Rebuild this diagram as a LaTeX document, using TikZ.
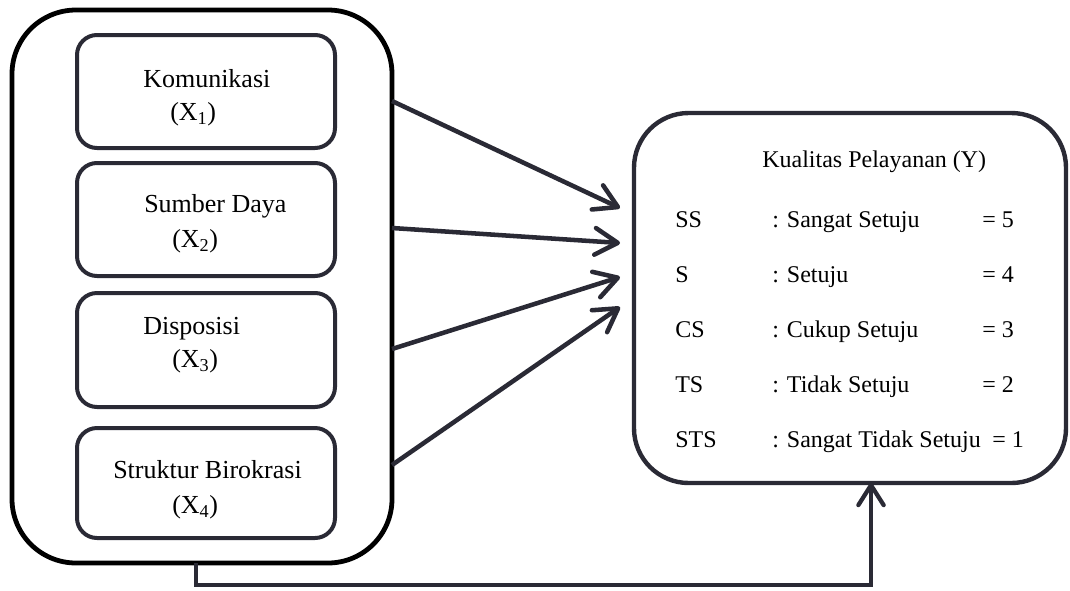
\documentclass[tikz,border=0pt]{standalone}
\usepackage{fontspec}
\setmainfont{Liberation Serif}
\usetikzlibrary{arrows.meta}
\definecolor{ink}{HTML}{2A2A35}
\tikzset{
  outerbox/.style={draw=black, line width=3.6pt, rounded corners=48pt, minimum width=285pt, minimum height=414.75pt, inner sep=0pt},
  varbox/.style={draw=ink, line width=3pt, rounded corners=15pt, minimum width=193.5pt, inner sep=0pt},
  ybox/.style={draw=ink, line width=3.3pt, rounded corners=41pt, minimum width=324pt, minimum height=277.5pt, inner sep=0pt},
  ltext/.style={anchor=base west, inner sep=0pt, font=\fontsize{19.5}{23}\selectfont},
  rtext/.style={anchor=base west, inner sep=0pt, font=\fontsize{18}{21}\selectfont},
  conn/.style={draw=ink, line width=3.4pt, -{Straight Barb[length=17pt,width=20pt,round]}},
}
\begin{document}
\begin{tikzpicture}[x=0.75pt,y=-0.75pt]
\useasboundingbox (0,0) rectangle (1070,590);
% left outer box
\node[outerbox] (L) at (202,286.5) {};
\node[varbox, minimum height=84.75pt] (B1) at (206,91.5) {};
\node[varbox, minimum height=84.75pt] (B2) at (206,219.5) {};
\node[varbox, minimum height=85.5pt] (B3) at (206,350) {};
\node[varbox, minimum height=82.5pt] (B4) at (206,483) {};
\node[ltext] (t1a) at (143,87) {Komunikasi};
\node[ltext] (t1b) at (170,120) {(X\textsubscript{1})};
\node[ltext] (t2a) at (144,212) {Sumber Daya};
\node[ltext] (t2b) at (172,247) {(X\textsubscript{2})};
\node[ltext] (t3a) at (143,334) {Disposisi};
\node[ltext] (t3b) at (172,367) {(X\textsubscript{3})};
\node[ltext] (t4a) at (113,478) {Struktur Birokrasi};
\node[ltext] (t4b) at (172,513) {(X\textsubscript{4})};
% right box
\node[ybox] (R) at (850,298) {};
\node[rtext] (ty) at (762,167) {Kualitas Pelayanan (Y)};
\node[rtext] (a1) at (675,227) {SS};
\node[rtext] (b1) at (772,227) {: Sangat Setuju};
\node[rtext] (c1) at (982,227) {= 5};
\node[rtext] (a2) at (675,282) {S};
\node[rtext] (b2) at (772,282) {: Setuju};
\node[rtext] (c2) at (982,282) {= 4};
\node[rtext] (a3) at (675,337) {CS};
\node[rtext] (b3) at (772,337) {: Cukup Setuju};
\node[rtext] (c3) at (982,337) {= 3};
\node[rtext] (a4) at (675,392) {TS};
\node[rtext] (b4) at (772,392) {: Tidak Setuju};
\node[rtext] (c4) at (982,392) {= 2};
\node[rtext] (a5) at (675,447) {STS};
\node[rtext] (b5) at (772,447) {: Sangat Tidak Setuju};
\node[rtext] (c5) at (992,447) {= 1};
% connector end points
\coordinate (s1) at (392,101);
\coordinate (s2) at (392,228);
\coordinate (s3) at (392,349);
\coordinate (s4) at (392,465);
\coordinate (e1) at (620,208);
\coordinate (e2) at (620,243);
\coordinate (e3) at (620,277);
\coordinate (e4) at (620,307);
\coordinate (bs) at (196,563);
\coordinate (bm) at (500,585);
\coordinate (be) at (871,483);
\draw[conn] (s1) -- (e1);
\draw[conn] (s2) -- (e2);
\draw[conn] (s3) -- (e3);
\draw[conn] (s4) -- (e4);
\draw[conn, line width=3.2pt, -{Straight Barb[length=15pt,width=19pt,round]}] (bs) |- (bm) -| (be);
\end{tikzpicture}
\end{document}
